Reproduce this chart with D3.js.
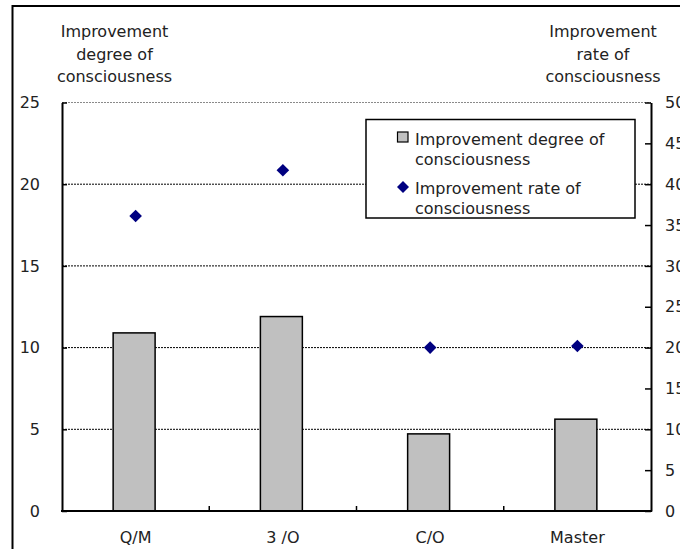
<!DOCTYPE html>
<html>
<head>
<meta charset="utf-8">
<script src="https://cdn.jsdelivr.net/npm/d3@7"></script>
<style>
  html, body { margin: 0; padding: 0; background: #fff; }
  svg { display: block; }
  text { font-family: "DejaVu Sans", sans-serif; font-size: 16px; fill: #222; }
</style>
</head>
<body>
<svg id="chart" width="680" height="549"></svg>
<script>
// Chart data
const categories = ["Q/M", "3 /O", "C/O", "Master"];
const degreeValues = [10.9, 11.9, 4.72, 5.62];   // left axis, bars
const rateValues = [36.1, 41.7, 20.0, 20.2];     // right axis, diamonds
const leftTicks = [0, 5, 10, 15, 20, 25];
const rightTicks = [0, 5, 10, 15, 20, 25, 30, 35, 40, 45, 50];
const seriesNames = ["Improvement degree of consciousness", "Improvement rate of consciousness"];
const leftTitle = ["Improvement", "degree of", "consciousness"];
const rightTitle = ["Improvement", "rate of", "consciousness"];

const svg = d3.select("#chart");
const plot = { left: 62, right: 651, top: 102.5, bottom: 511 };

const x = d3.scaleBand().domain(categories).range([plot.left, plot.right]).padding(0);
const yL = d3.scaleLinear().domain([0, 25]).range([plot.bottom, plot.top]);
const yR = d3.scaleLinear().domain([0, 50]).range([plot.bottom, plot.top]);

// Outer frame (runs past the right and bottom edges)
svg.append("rect")
  .attr("x", 12.5).attr("y", 6).attr("width", 720).attr("height", 620)
  .attr("fill", "none").attr("stroke", "#000").attr("stroke-width", 2);

// Horizontal gridlines
svg.append("g").selectAll("line")
  .data(leftTicks.filter(d => d > 0))
  .join("line")
  .attr("x1", plot.left).attr("x2", plot.right)
  .attr("y1", d => yL(d)).attr("y2", d => yL(d))
  .attr("stroke", d => d === 25 ? "#8a8a8a" : "#000")
  .attr("stroke-width", 1)
  .attr("stroke-dasharray", "2,1");

// Bars
const barW = x.bandwidth() * 0.285;
svg.append("g").selectAll("rect")
  .data(categories)
  .join("rect")
  .attr("x", d => x(d) + x.bandwidth() / 2 - barW / 2 - 1.5)
  .attr("y", (d, i) => yL(degreeValues[i]))
  .attr("width", barW)
  .attr("height", (d, i) => yL(0) - yL(degreeValues[i]))
  .attr("fill", "#c0c0c0")
  .attr("stroke", "#000")
  .attr("stroke-width", 1.5);

// Diamonds
const diamond = d3.symbol().type(d3.symbolDiamond2 || d3.symbolSquare2).size(80);
function diamondPath(cx, cy, r) {
  return `M${cx},${cy - r}L${cx + r},${cy}L${cx},${cy + r}L${cx - r},${cy}Z`;
}
svg.append("g").selectAll("path")
  .data(categories)
  .join("path")
  .attr("d", (d, i) => diamondPath(x(d) + x.bandwidth() / 2, yR(rateValues[i]), 6.3))
  .attr("fill", "#000080");

// Left axis
const axL = svg.append("g")
  .attr("transform", `translate(${plot.left},0)`)
  .call(d3.axisLeft(yL).tickValues(leftTicks).tickSizeInner(-5).tickSizeOuter(0).tickPadding(22).tickFormat(d3.format("d")));
axL.select(".domain").attr("stroke", "#000").attr("stroke-width", 2);
axL.selectAll(".tick line").attr("stroke", "#000").attr("stroke-width", 1.5);
axL.selectAll("text").style("font-family", "DejaVu Sans, sans-serif").style("font-size", "16px").attr("fill", "#222");

// Right axis
const axR = svg.append("g")
  .attr("transform", `translate(${plot.right},0)`)
  .call(d3.axisRight(yR).tickValues(rightTicks).tickSizeInner(-6).tickSizeOuter(0).tickPadding(14).tickFormat(d3.format("d")));
axR.select(".domain").attr("stroke", "#000").attr("stroke-width", 2);
axR.selectAll(".tick line").attr("stroke", "#000").attr("stroke-width", 1.5);
axR.selectAll("text").style("font-family", "DejaVu Sans, sans-serif").style("font-size", "16px").attr("fill", "#222");

// Bottom axis: labels at category centers, ticks at category boundaries
const axB = svg.append("g")
  .attr("transform", `translate(0,${plot.bottom})`)
  .call(d3.axisBottom(x).tickSize(0).tickPadding(21));
axB.select(".domain").remove();
axB.selectAll("text").style("font-family", "DejaVu Sans, sans-serif").style("font-size", "16px").attr("fill", "#222");
svg.append("line")
  .attr("x1", plot.left - 1).attr("x2", plot.right + 1)
  .attr("y1", plot.bottom).attr("y2", plot.bottom)
  .attr("stroke", "#000").attr("stroke-width", 2);
svg.append("g").selectAll("line")
  .data(categories.slice(1))
  .join("line")
  .attr("x1", d => x(d)).attr("x2", d => x(d))
  .attr("y1", plot.bottom).attr("y2", plot.bottom - 5)
  .attr("stroke", "#000").attr("stroke-width", 1.5);

// Axis titles
function title(lines, cx) {
  svg.append("text")
    .attr("text-anchor", "middle")
    .selectAll("tspan")
    .data(lines)
    .join("tspan")
    .attr("x", cx)
    .attr("y", (d, i) => 37 + i * 22.5)
    .text(d => d);
}
title(leftTitle, 114.5);
title(rightTitle, 603);

// Legend
const lg = svg.append("g");
lg.append("rect")
  .attr("x", 366).attr("y", 119.5).attr("width", 269).attr("height", 98.5)
  .attr("fill", "#fff").attr("stroke", "#000").attr("stroke-width", 1.5);
const wrap = name => {
  const words = name.split(" ");
  return [words.slice(0, -1).join(" "), words[words.length - 1]];
};
seriesNames.forEach((name, i) => {
  const top = 144.5 + i * 49;
  const t = lg.append("text");
  wrap(name).forEach((line, j) => {
    t.append("tspan").attr("x", 415).attr("y", top + j * 20).text(line);
  });
  if (i === 0) {
    lg.append("rect")
      .attr("x", 397.5).attr("y", 132).attr("width", 10.5).attr("height", 10)
      .attr("fill", "#c0c0c0").attr("stroke", "#000").attr("stroke-width", 1.2);
  } else {
    lg.append("path").attr("d", diamondPath(403, top - 6.5, 6)).attr("fill", "#000080");
  }
});
</script>
</body>
</html>
